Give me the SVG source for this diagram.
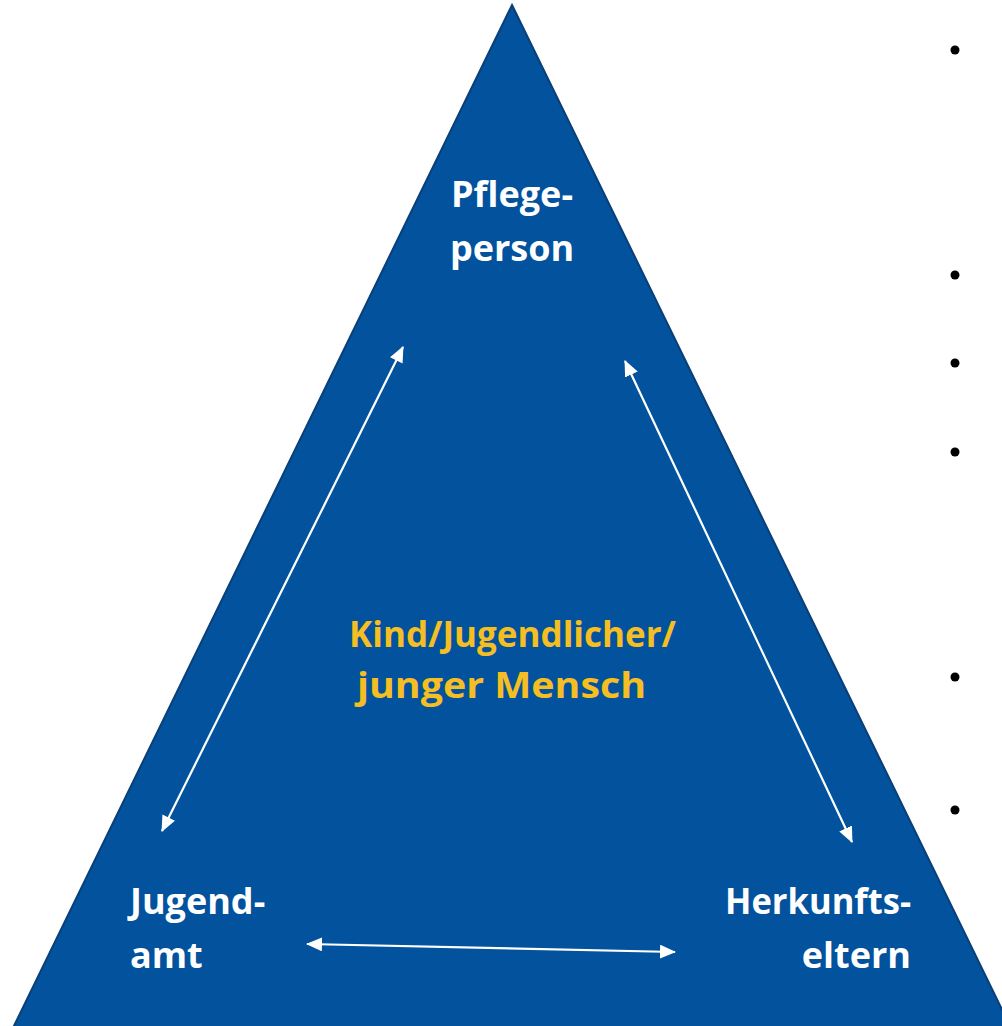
<svg xmlns="http://www.w3.org/2000/svg" width="1002" height="1026" viewBox="0 0 1002 1026">
  <defs>
    <style>
      .lbl { font-family: "Open Sans", "Liberation Sans", sans-serif; font-weight: bold; font-size: 36px; fill: #ffffff; }
      .center { font-family: "Open Sans", "Liberation Sans", sans-serif; font-weight: bold; font-size: 35px; fill: #F5BE22; }
      .conn { stroke: #ffffff; stroke-width: 2.2; fill: none; marker-start: url(#ah); marker-end: url(#ah); }
      .bullet { fill: #000000; }
    </style>
    <marker id="ah" viewBox="0 0 16 14" refX="15" refY="7" markerWidth="16" markerHeight="14" markerUnits="userSpaceOnUse" orient="auto-start-reverse">
      <path d="M0,0 L16,7 L0,14 Z" fill="#ffffff"/>
    </marker>
  </defs>
  <rect width="1002" height="1026" fill="#ffffff"/>
  <g id="triangle">
    <polygon points="512,5 1013,1032 11,1032" fill="#02529E" stroke="#0A3F78" stroke-width="2"/>
  </g>
  <g id="node-pflegeperson">
    <text class="lbl" x="512" y="207" text-anchor="middle">Pflege-</text>
    <text class="lbl" x="512" y="261" text-anchor="middle">person</text>
  </g>
  <g id="node-kind">
    <text class="center" x="349" y="647" textLength="327" lengthAdjust="spacingAndGlyphs">Kind/Jugendlicher/</text>
    <text class="center" x="357" y="698" textLength="289" lengthAdjust="spacingAndGlyphs">junger Mensch</text>
  </g>
  <g id="node-jugendamt">
    <text class="lbl" x="130" y="914">Jugend-</text>
    <text class="lbl" x="130" y="968">amt</text>
  </g>
  <g id="node-herkunftseltern">
    <text class="lbl" x="725" y="914" textLength="186" lengthAdjust="spacingAndGlyphs">Herkunfts-</text>
    <text class="lbl" x="911" y="968" text-anchor="end">eltern</text>
  </g>
  <g id="connectors">
    <line class="conn" x1="162" y1="831" x2="403" y2="347"/>
    <line class="conn" x1="625" y1="361" x2="852" y2="842"/>
    <line class="conn" x1="307" y1="944" x2="675" y2="952"/>
  </g>
  <g id="bullets">
    <circle class="bullet" cx="955" cy="50" r="4.5"/>
    <circle class="bullet" cx="955" cy="275" r="4.5"/>
    <circle class="bullet" cx="955" cy="363" r="4.5"/>
    <circle class="bullet" cx="955" cy="452" r="4.5"/>
    <circle class="bullet" cx="955" cy="677" r="4.5"/>
    <circle class="bullet" cx="955" cy="810" r="4.5"/>
  </g>
</svg>
